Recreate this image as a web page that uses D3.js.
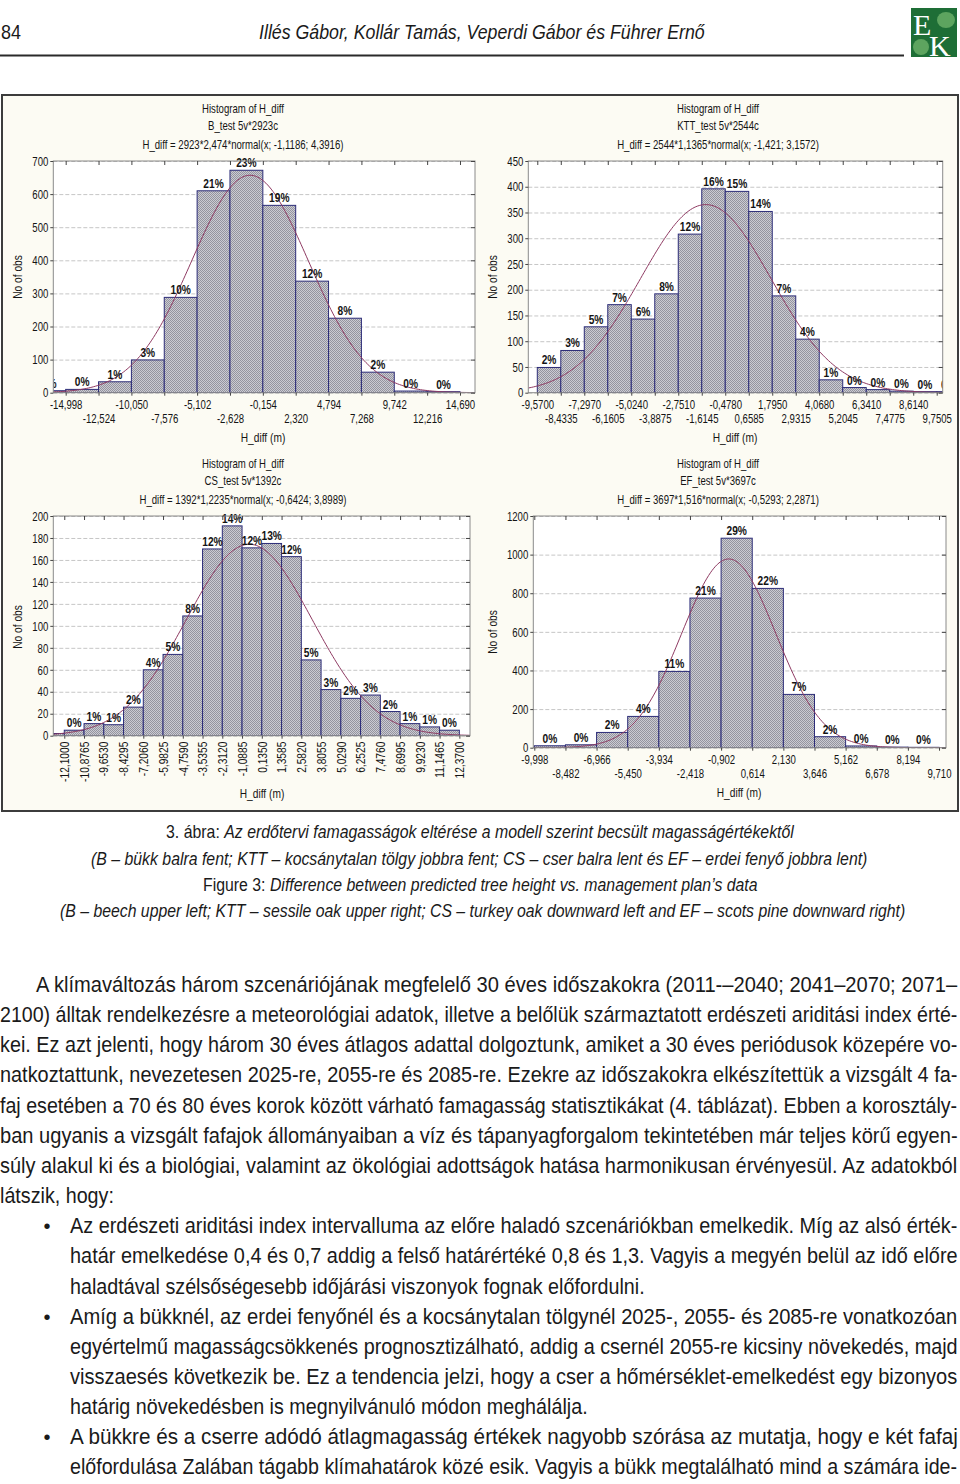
<!DOCTYPE html>
<html><head><meta charset="utf-8">
<script src="https://cdn.jsdelivr.net/npm/d3@7"></script>
<style>body{margin:0;background:#fff}svg{display:block}</style>
</head><body>
<svg id="page" width="960" height="1484"></svg>
<script>
// ---------- DATA ----------
// B (beech) – upper left
const titlesB = ["Histogram of H_diff", "B_test 5v*2923c", "H_diff = 2923*2,474*normal(x; -1,1186; 4,3916)"];
const edgesB = [-17.472, -14.998, -12.524, -10.050, -7.576, -5.102, -2.628, -0.154, 2.320, 4.794, 7.268, 9.742, 12.216, 14.690];
const countsB = [6, 10, 33, 99, 288, 610, 672, 566, 337, 225, 62, 5, 3];
const pctB = ["0%", "0%", "1%", "3%", "10%", "21%", "23%", "19%", "12%", "8%", "2%", "0%", "0%"];
const yTicksB = [0, 100, 200, 300, 400, 500, 600, 700];
const fitB = [2923, 2.474, -1.1186, 4.3916]; // N, bin width, mean, sd (from the title formula)

// KTT (sessile oak) – upper right
const titlesKTT = ["Histogram of H_diff", "KTT_test 5v*2544c", "H_diff = 2544*1,1365*normal(x; -1,421; 3,1572)"];
const edgesKTT = [-9.5700, -8.4335, -7.2970, -6.1605, -5.0240, -3.8875, -2.7510, -1.6145, -0.4780, 0.6585, 1.7950, 2.9315, 4.0680, 5.2045, 6.3410, 7.4775, 8.6140, 9.7505, 10.8870];
const countsKTT = [49, 82, 128, 171, 143, 192, 308, 396, 391, 352, 188, 104, 25, 10, 6, 3, 2, 2];
const pctKTT = ["2%", "3%", "5%", "7%", "6%", "8%", "12%", "16%", "15%", "14%", "7%", "4%", "1%", "0%", "0%", "0%", "0%", "0%"];
const yTicksKTT = [0, 50, 100, 150, 200, 250, 300, 350, 400, 450];
const fitKTT = [2544, 1.1365, -1.421, 3.1572];

// CS (turkey oak) – lower left
const titlesCS = ["Histogram of H_diff", "CS_test 5v*1392c", "H_diff = 1392*1,2235*normal(x; -0,6424; 3,8989)"];
const edgesCS = [-13.3235, -12.1000, -10.8765, -9.6530, -8.4295, -7.2060, -5.9825, -4.7590, -3.5355, -2.3120, -1.0885, 0.1350, 1.3585, 2.5820, 3.8055, 5.0290, 6.2525, 7.4760, 8.6995, 9.9230, 11.1465, 12.3700];
const countsCS = [2, 5, 11, 10, 26, 60, 74, 109, 170, 191, 171, 175, 163, 69, 42, 34, 37, 22, 11, 8, 5];
const pctCS = ["", "0%", "1%", "1%", "2%", "4%", "5%", "8%", "12%", "14%", "12%", "13%", "12%", "5%", "3%", "2%", "3%", "2%", "1%", "1%", "0%"];
const yTicksCS = [0, 20, 40, 60, 80, 100, 120, 140, 160, 180, 200];
const fitCS = [1392, 1.2235, -0.6424, 3.8989];

// EF (scots pine) – lower right
const titlesEF = ["Histogram of H_diff", "EF_test 5v*3697c", "H_diff = 3697*1,516*normal(x; -0,5293; 2,2871)"];
const edgesEF = [-9.998, -8.482, -6.966, -5.450, -3.934, -2.418, -0.902, 0.614, 2.130, 3.646, 5.162, 6.678, 8.194, 9.710];
const countsEF = [10, 15, 79, 162, 395, 775, 1085, 825, 276, 57, 9, 3, 2];
const pctEF = ["0%", "0%", "2%", "4%", "11%", "21%", "29%", "22%", "7%", "2%", "0%", "0%", "0%"];
const yTicksEF = [0, 200, 400, 600, 800, 1000, 1200];
const fitEF = [3697, 1.516, -0.5293, 2.2871];

const yAxisTitle = "No of obs";
const xAxisTitle = "H_diff (m)";

const headerPage = "84";
const headerAuthors = "Illés Gábor, Kollár Tamás, Veperdi Gábor és Führer Ernő";

const captionLines = [
  ["3. ábra: ", "Az erdőtervi famagasságok eltérése a modell szerint becsült magasságértékektől"],
  ["", "(B – bükk balra fent; KTT – kocsánytalan tölgy jobbra fent; CS – cser balra lent és EF – erdei fenyő jobbra lent)"],
  ["Figure 3: ", "Difference between predicted tree height vs. management plan’s data"],
  ["", "(B – beech upper left; KTT – sessile oak upper right; CS – turkey oak downward left and EF – scots pine downward right)"]
];

const bodyLines = [
  "A klímaváltozás három szcenáriójának megfelelő 30 éves időszakokra (2011-–2040; 2041–2070; 2071–",
  "2100) álltak rendelkezésre a meteorológiai adatok, illetve a belőlük származtatott erdészeti ariditási index érté-",
  "kei. Ez azt jelenti, hogy három 30 éves átlagos adattal dolgoztunk, amiket a 30 éves periódusok közepére vo-",
  "natkoztattunk, nevezetesen 2025-re, 2055-re és 2085-re. Ezekre az időszakokra elkészítettük a vizsgált 4 fa-",
  "faj esetében a 70 és 80 éves korok között várható famagasság statisztikákat (4. táblázat). Ebben a korosztály-",
  "ban ugyanis a vizsgált fafajok állományaiban a víz és tápanyagforgalom tekintetében már teljes körű egyen-",
  "súly alakul ki és a biológiai, valamint az ökológiai adottságok hatása harmonikusan érvényesül. Az adatokból",
  "látszik, hogy:",
  "Az erdészeti ariditási index intervalluma az előre haladó szcenáriókban emelkedik. Míg az alsó érték-",
  "határ emelkedése 0,4 és 0,7 addig a felső határértéké 0,8 és 1,3. Vagyis a megyén belül az idő előre",
  "haladtával szélsőségesebb időjárási viszonyok fognak előfordulni.",
  "Amíg a bükknél, az erdei fenyőnél és a kocsánytalan tölgynél 2025-, 2055- és 2085-re vonatkozóan",
  "egyértelmű magasságcsökkenés prognosztizálható, addig a csernél 2055-re kicsiny növekedés, majd",
  "visszaesés következik be. Ez a tendencia jelzi, hogy a cser a hőmérséklet-emelkedést egy bizonyos",
  "határig növekedésben is megnyilvánuló módon meghálálja.",
  "A bükkre és a cserre adódó átlagmagasság értékek nagyobb szórása az mutatja, hogy e két fafaj",
  "előfordulása Zalában tágabb klímahatárok közé esik. Vagyis a bükk megtalálható mind a számára ide-"
];
const bulletLineIdx = [8, 11, 15];

// ---------- DRAWING ----------
const FONT = "'Liberation Sans', Arial, Helvetica, sans-serif";
const svg = d3.select("#page");
const locale = d3.formatLocale({decimal: ",", thousands: " ", grouping: [3], currency: ["", ""], minus: "-"});

const defs = svg.append("defs");
const pat = defs.append("pattern").attr("id", "hatch").attr("width", 2).attr("height", 2).attr("patternUnits", "userSpaceOnUse");
pat.append("rect").attr("width", 2).attr("height", 2).attr("fill", "#cbcbd2");
pat.append("rect").attr("width", 1).attr("height", 1).attr("fill", "#94949f");
pat.append("rect").attr("x", 1).attr("y", 1).attr("width", 1).attr("height", 1).attr("fill", "#94949f");

function ctext(parent, x, y, str, o = {}) {
  const size = o.size || 12, sx = o.sx || 0.8;
  return parent.append("text")
    .attr("transform", `translate(${x},${y})` + (o.rotate ? ` rotate(${o.rotate})` : "") + ` scale(${sx},1)`)
    .attr("text-anchor", o.anchor || "middle")
    .attr("font-family", FONT).attr("font-size", size)
    .attr("font-weight", o.weight || "normal")
    .attr("fill", o.fill || "#141414")
    .text(str);
}

// text fitted between x0 and x1 by horizontal scaling (mimics the condensed print face)
function ftext(x0, x1, y, parts, size) {
  const t = svg.append("text").attr("font-family", FONT).attr("font-size", size).attr("fill", "#1a1a1a");
  parts.forEach(([str, italic]) => { if (str) t.append("tspan").attr("font-style", italic ? "italic" : "normal").text(str); });
  const len = t.node().getComputedTextLength();
  t.attr("transform", `translate(${x0},${y}) scale(${(x1 - x0) / len},1)`);
  return t;
}

// Header
ftext(1, 21, 39, [[headerPage, false]], 20);
ftext(259, 705, 39, [[headerAuthors, true]], 21);
svg.append("line").attr("x1", 0).attr("x2", 904).attr("y1", 55.5).attr("y2", 55.5).attr("stroke", "#2a2a2a").attr("stroke-width", 2);

// Logo
const logo = svg.append("g");
logo.append("rect").attr("x", 911).attr("y", 8).attr("width", 46).attr("height", 49).attr("fill", "#1e6e36");
logo.append("ellipse").attr("cx", 946).attr("cy", 20).attr("rx", 9).attr("ry", 8).attr("fill", "#5da45f");
logo.append("ellipse").attr("cx", 921).attr("cy", 47).attr("rx", 8).attr("ry", 8).attr("fill", "#5da45f");
logo.append("text").attr("x", 913).attr("y", 35).attr("font-family", "'Liberation Serif', serif").attr("font-size", 30).attr("fill", "#fff").text("E");
logo.append("text").attr("x", 929).attr("y", 56).attr("font-family", "'Liberation Serif', serif").attr("font-size", 30).attr("fill", "#fff").text("K");

// Figure frame
svg.append("rect").attr("x", 2).attr("y", 95).attr("width", 956).attr("height", 716)
  .attr("fill", "#fcfbf3").attr("stroke", "#3c3c3c").attr("stroke-width", 2);

const panels = [
  {titles: titlesB, edges: edgesB, counts: countsB, pct: pctB, yTicks: yTicksB, fit: fitB,
   left: 53.3, right: 475, top: 161, bottom: 392.7, xDom: [-15.93, 15.82], fmt: ".3f", rot: false,
   titleX: 243, titleY: [113, 130, 149], yLab: [22, 277], xTitle: [263, 442], rows: [16.5, 30.5]},
  {titles: titlesKTT, edges: edgesKTT, counts: countsKTT, pct: pctKTT, yTicks: yTicksKTT, fit: fitKTT,
   left: 528.3, right: 942.7, top: 161, bottom: 392.7, xDom: [-10.005, 10.04], fmt: ".4f", rot: false,
   titleX: 718, titleY: [113, 130, 149], yLab: [497, 277], xTitle: [735, 442], rows: [16.5, 30.5]},
  {titles: titlesCS, edges: edgesCS, counts: countsCS, pct: pctCS, yTicks: yTicksCS, fit: fitCS,
   left: 53.3, right: 470, top: 516, bottom: 735.7, xDom: [-12.78, 13.03], fmt: ".4f", rot: true,
   titleX: 243, titleY: [468, 485, 504], yLab: [22, 627], xTitle: [262, 798], rows: [6, 6]},
  {titles: titlesEF, edges: edgesEF, counts: countsEF, pct: pctEF, yTicks: yTicksEF, fit: fitEF,
   left: 533.3, right: 946, top: 516, bottom: 747.7, xDom: [-10.047, 10.05], fmt: ".3f", rot: false,
   titleX: 718, titleY: [468, 485, 504], yLab: [497, 632], xTitle: [739, 797], rows: [16.5, 30.5]}
];

panels.forEach((p, pi) => {
  const g = svg.append("g");
  const x = d3.scaleLinear().domain(p.xDom).range([p.left, p.right]);
  const y = d3.scaleLinear().domain([0, p.yTicks[p.yTicks.length - 1]]).range([p.bottom, p.top]);
  const w = p.right - p.left, h = p.bottom - p.top;

  // titles
  p.titles.forEach((t, i) => ctext(g, p.titleX, p.titleY[i], t, {size: 12, sx: 0.8}));

  // plot background
  g.append("rect").attr("x", p.left).attr("y", p.top).attr("width", w).attr("height", h).attr("fill", "#fff");

  // grid
  const grid = g.append("g").attr("transform", `translate(${p.left},0)`)
    .call(d3.axisLeft(y).tickValues(p.yTicks).tickSize(-w).tickFormat(""));
  grid.select(".domain").remove();
  grid.selectAll("line").attr("stroke", "#c6c6c6").attr("stroke-dasharray", "4,2");

  const clipId = "clip" + pi;
  defs.append("clipPath").attr("id", clipId).append("rect")
    .attr("x", p.left).attr("y", p.top).attr("width", w).attr("height", h);
  const clipLab = "clipLab" + pi;
  defs.append("clipPath").attr("id", clipLab).append("rect")
    .attr("x", p.left).attr("y", p.top - 30).attr("width", w).attr("height", h + 30);
  const plot = g.append("g").attr("clip-path", `url(#${clipId})`);

  const bins = p.counts.map((c, i) => ({x0: p.edges[i], x1: p.edges[i + 1], c, lab: p.pct[i]}));

  plot.selectAll("rect.bar").data(bins).join("rect").attr("class", "bar")
    .attr("x", d => x(d.x0)).attr("width", d => x(d.x1) - x(d.x0))
    .attr("y", d => y(d.c)).attr("height", d => y(0) - y(d.c))
    .attr("fill", "url(#hatch)").attr("stroke", "#2c2c78").attr("stroke-width", 1);

  // fitted normal curve from the formula in the title
  const [N, bw, mu, sd] = p.fit;
  const xs = d3.range(0, 241).map(i => p.xDom[0] + (p.xDom[1] - p.xDom[0]) * i / 240);
  const curve = d3.line().x(v => x(v)).y(v => y(N * bw * Math.exp(-0.5 * ((v - mu) / sd) ** 2) / (sd * Math.sqrt(2 * Math.PI))));
  plot.append("path").datum(xs).attr("d", curve).attr("fill", "none").attr("stroke", "#8e3a62").attr("stroke-width", 1);

  // percent labels
  const labs = g.append("g").attr("clip-path", `url(#${clipLab})`);
  bins.forEach(d => {
    if (d.lab) ctext(labs, (x(d.x0) + x(d.x1)) / 2, y(d.c) - 3, d.lab, {size: 12, sx: 0.85, weight: "bold"});
  });

  // plot frame
  g.append("rect").attr("x", p.left).attr("y", p.top).attr("width", w).attr("height", h)
    .attr("fill", "none").attr("stroke", "#8a8a8a").attr("stroke-width", 1);

  const xTicks = p.edges.filter(v => v >= p.xDom[0] && v <= p.xDom[1]);
  const fmt = locale.format(p.fmt);

  // top & right inward ticks
  const topAx = g.append("g").attr("transform", `translate(0,${p.top})`)
    .call(d3.axisTop(x).tickValues(xTicks).tickSize(-4).tickFormat(""));
  topAx.select(".domain").remove();
  topAx.selectAll("line").attr("stroke", "#444");
  const rightAx = g.append("g").attr("transform", `translate(${p.right},0)`)
    .call(d3.axisRight(y).tickValues(p.yTicks).tickSize(-4).tickFormat(""));
  rightAx.select(".domain").remove();
  rightAx.selectAll("line").attr("stroke", "#444");

  // left axis
  const yAx = g.append("g").attr("transform", `translate(${p.left},0)`)
    .call(d3.axisLeft(y).tickValues(p.yTicks).tickSize(3).tickFormat(d => d));
  yAx.select(".domain").remove();
  yAx.selectAll("line").attr("stroke", "#444");
  yAx.selectAll("text").attr("x", -5 / 0.8).attr("dy", "0.35em").attr("transform", "scale(0.8,1)")
    .attr("font-family", FONT).attr("font-size", 12).attr("fill", "#141414");

  // bottom axis
  const xAx = g.append("g").attr("transform", `translate(0,${p.bottom})`)
    .call(d3.axisBottom(x).tickValues(xTicks).tickSize(3).tickFormat(fmt));
  xAx.select(".domain").remove();
  xAx.selectAll("line").attr("stroke", "#444");
  const tt = xAx.selectAll("text").attr("font-family", FONT).attr("font-size", 12).attr("fill", "#141414");
  if (p.rot) {
    tt.attr("text-anchor", "end").attr("x", -p.rows[0] / 0.85).attr("y", 0).attr("dy", "0.35em")
      .attr("transform", "rotate(-90) scale(0.85,1)");
  } else {
    tt.attr("y", (d, i) => p.rows[i % 2]).attr("dy", 0).attr("transform", "scale(0.8,1)");
  }

  // axis titles
  ctext(g, p.yLab[0], p.yLab[1], yAxisTitle, {size: 12, sx: 0.85, rotate: -90});
  ctext(g, p.xTitle[0], p.xTitle[1], xAxisTitle, {size: 12, sx: 0.85});
});

// Caption
const capLayout = [
  {y: 838, x: [166, 794]},
  {y: 865, x: [91, 868]},
  {y: 891, x: [203, 758]},
  {y: 917, x: [60, 906]}
];
captionLines.forEach((c, i) => {
  const L = capLayout[i];
  ftext(L.x[0], L.x[1], L.y, [[c[0], false], [c[1], true]], 19);
});

// Body text
const bodyExt = [[36, 958], [0, 958], [0, 958], [0, 958], [0, 958], [0, 958], [0, 958], [0, 114],
  [70, 958], [70, 958], [70, 645], [70, 958], [70, 958], [70, 958], [70, 588], [70, 958], [70, 958]];
bodyLines.forEach((t, i) => {
  const yy = 992 + i * 30.15;
  ftext(bodyExt[i][0], bodyExt[i][1], yy, [[t, false]], 21.5);
  if (bulletLineIdx.includes(i)) {
    svg.append("text").attr("x", 47).attr("y", yy).attr("text-anchor", "middle").attr("font-family", FONT)
      .attr("font-size", 20).attr("fill", "#1a1a1a").text("•");
  }
});
</script>
</body></html>
